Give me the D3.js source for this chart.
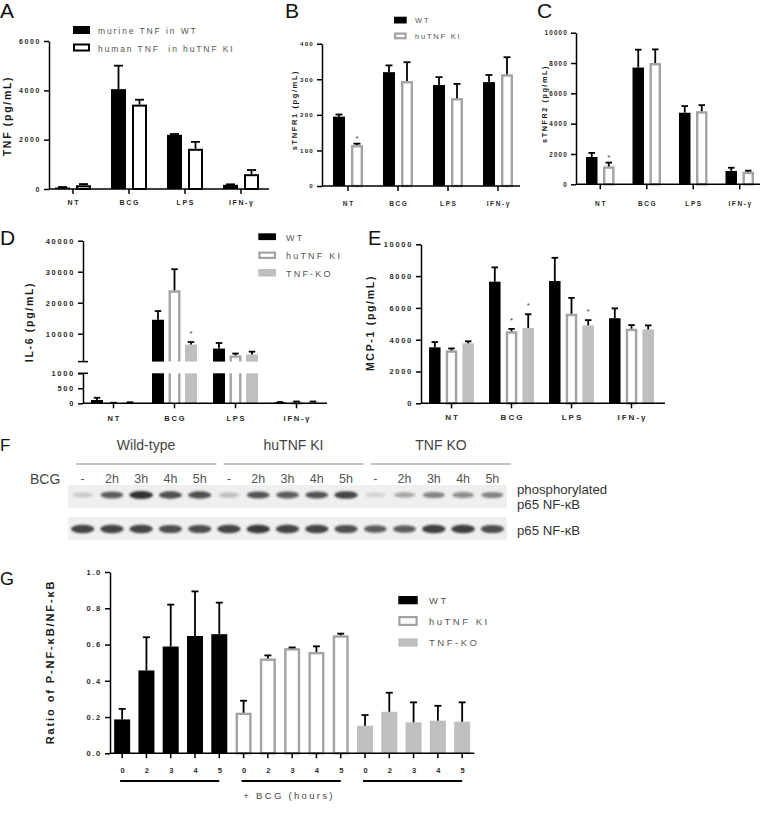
<!DOCTYPE html>
<html><head><meta charset="utf-8">
<script src="https://cdn.jsdelivr.net/npm/d3@7"></script>
<style>body{margin:0;background:#fff}svg{display:block}text{font-family:"Liberation Sans",Arial,sans-serif}</style>
</head><body>
<svg id="c" width="760" height="813"></svg>
<script>
// ---------------- DATA ----------------
const stimuli = ["NT", "BCG", "LPS", "IFN-γ"];
// A: TNF (pg/mL)
const tnfWT = [60, 4050, 2200, 170];
const tnfWTsem = [20, 950, 30, 20];
const tnfHu = [150, 3420, 1630, 600];
const tnfHuSem = [50, 200, 280, 170];
// B: sTNFR1
const r1WT = [195, 320, 284, 292];
const r1WTsem = [6, 19, 22, 20];
const r1Hu = [115, 295, 247, 314];
const r1HuSem = [4, 53, 40, 48];
const r1HuStar = [1, 0, 0, 0];
// C: sTNFR2
const r2WT = [1800, 7700, 4720, 880];
const r2WTsem = [270, 1180, 440, 210];
const r2Hu = [1180, 8000, 4820, 830];
const r2HuSem = [250, 900, 400, 70];
const r2HuStar = [1, 0, 0, 0];
// D: IL-6
const il6WT = [110, 14500, 5200, 30];
const il6WTsem = [75, 2800, 1800, 10];
const il6Hu = [15, 24000, 3000, 50];
const il6HuSem = [5, 6800, 600, 10];
const il6KO = [25, 6500, 3300, 40];
const il6KOsem = [10, 800, 900, 20];
const il6KOStar = [0, 1, 0, 0];
// E: MCP-1
const mcpWT = [3520, 7650, 7690, 5350];
const mcpWTsem = [330, 900, 1460, 620];
const mcpHu = [3330, 4530, 5630, 4690];
const mcpHuSem = [120, 150, 1000, 230];
const mcpKO = [3770, 4740, 4900, 4650];
const mcpKOsem = [130, 860, 330, 250];
const mcpHuStar = [0, 1, 0, 0];
const mcpKOStar = [0, 1, 1, 0];
// F: western blot
const blotGroups = ["Wild-type", "huTNF KI", "TNF KO"];
const lanes = ["-", "2h", "3h", "4h", "5h"];
const phosBand = [0.12, 0.7, 0.95, 0.8, 0.8, 0.18, 0.75, 0.7, 0.75, 0.85, 0.06, 0.3, 0.5, 0.45, 0.5];
const totalBand = [0.85, 0.85, 0.85, 0.8, 0.8, 0.85, 0.9, 0.85, 0.85, 0.8, 0.7, 0.7, 0.88, 0.88, 0.8];
// G: ratio
const hours = ["0", "2", "3", "4", "5"];
const ratioWT = [0.187, 0.457, 0.589, 0.647, 0.657];
const ratioWTsem = [0.058, 0.183, 0.231, 0.246, 0.174];
const ratioHu = [0.224, 0.523, 0.58, 0.559, 0.651];
const ratioHuSem = [0.066, 0.017, 0.004, 0.031, 0.009];
const ratioKO = [0.152, 0.229, 0.171, 0.18, 0.174];
const ratioKOsem = [0.059, 0.105, 0.11, 0.082, 0.107];

// ---------------- HELPERS ----------------
const svg = d3.select("#c");
svg.append("rect").attr("width", 760).attr("height", 813).attr("fill", "#fff");
const GRAY = "#a3a3a3", KOFILL = "#bfbfbf";
const TICKCOL = "#2a2a2a";

function txt(g, x, y, s, o = {}) {
  const t = g.append("text").attr("x", x).attr("y", y).text(s)
    .attr("font-size", o.size || 8).attr("fill", o.fill || "#333")
    .attr("letter-spacing", o.ls || 0).attr("text-anchor", o.anchor || "start");
  if (o.weight) t.attr("font-weight", o.weight);
  if (o.rotate) t.attr("transform", `rotate(-90,${x},${y})`);
  return t;
}
function yAxis(g, scale, x, ticks, o) {
  const ax = d3.axisLeft(scale).tickValues(ticks).tickSize(5).tickSizeOuter(0)
    .tickPadding(o.pad || 3).tickFormat(o.fmt || d3.format("d"));
  const a = g.append("g").attr("transform", `translate(${x},0)`).call(ax);
  a.attr("font-family", null);
  a.select(".domain").attr("stroke", "#000").attr("stroke-width", 1.5);
  a.selectAll(".tick line").attr("stroke", "#000").attr("stroke-width", 1.5);
  a.selectAll(".tick text").attr("font-size", o.size).attr("fill", TICKCOL).attr("font-weight", "bold")
    .attr("letter-spacing", o.ls).attr("font-family", "'Liberation Sans',Arial,sans-serif");
  return a;
}
function xAxis(g, xs, y0, x1, x2, o) {
  g.append("line").attr("x1", x1).attr("x2", x2).attr("y1", y0).attr("y2", y0)
    .attr("stroke", "#000").attr("stroke-width", 1.5);
  xs.domain().forEach(d => {
    const c = xs(d) + xs.bandwidth() / 2;
    g.append("line").attr("x1", c).attr("x2", c).attr("y1", y0).attr("y2", y0 + 5)
      .attr("stroke", "#000").attr("stroke-width", 1.5);
    if (o.labels) txt(g, c + (o.ls || 0) / 2, o.ly, d, { size: o.size, ls: o.ls, anchor: "middle", fill: TICKCOL, weight: "bold" });
  });
}
function bar(g, x, w, yBase, yTop, style) {
  if (style === "black" || style === "ko") {
    g.append("rect").attr("x", x).attr("y", yTop).attr("width", w).attr("height", Math.max(0, yBase - yTop))
      .attr("fill", style === "black" ? "#000" : KOFILL);
  } else {
    const sw = style === "hollowK" ? 2 : 2.4;
    const col = style === "hollowK" ? "#000" : GRAY;
    g.append("rect").attr("x", x + sw / 2).attr("y", yTop + sw / 2).attr("width", w - sw)
      .attr("height", Math.max(0, yBase - yTop - sw / 2)).attr("fill", "#fff")
      .attr("stroke", col).attr("stroke-width", sw);
  }
}
function err(g, cx, yTop, yErr, cap) {
  g.append("line").attr("x1", cx).attr("x2", cx).attr("y1", yTop).attr("y2", yErr)
    .attr("stroke", "#000").attr("stroke-width", 1.8);
  g.append("line").attr("x1", cx - cap / 2).attr("x2", cx + cap / 2).attr("y1", yErr).attr("y2", yErr)
    .attr("stroke", "#000").attr("stroke-width", 1.8);
}
function star(g, cx, y) {
  txt(g, cx, y, "*", { size: 8, anchor: "middle", fill: "#444" });
}
function legendBox(g, x, y, w, h, style) {
  if (style === "black" || style === "ko") g.append("rect").attr("x", x).attr("y", y).attr("width", w).attr("height", h).attr("fill", style === "black" ? "#000" : KOFILL);
  else {
    const sw = style === "hollowK" ? 2 : 2.2;
    g.append("rect").attr("x", x + sw / 2).attr("y", y + sw / 2).attr("width", w - sw).attr("height", h - sw)
      .attr("fill", "#fff").attr("stroke", style === "hollowK" ? "#000" : GRAY).attr("stroke-width", sw);
  }
}
function panel(o) {
  const g = svg.append("g");
  const xs = d3.scaleBand().domain(o.cats).range(o.band);
  o.series.forEach(s => {
    o.cats.forEach((c, i) => {
      const cx = xs(c) + xs.bandwidth() / 2 + s.off;
      const v = s.vals[i], e = s.sems[i];
      const yT = o.y(v), yE = o.y(v + e);
      bar(g, cx - o.bw / 2, o.bw, o.y(0), yT, s.style);
      err(g, cx, yT, yE, o.cap);
      if (s.stars && s.stars[i]) star(g, cx, yE - o.starGap);
    });
  });
  yAxis(g, o.y, o.yx, o.ticks, o.tick);
  xAxis(g, xs, o.y(0), o.yx, o.xEnd, o.xlab);
  txt(g, o.ylab.x, o.ylab.y, o.ylab.text, { size: o.ylab.size, ls: o.ylab.ls, anchor: "middle", rotate: true, fill: "#1a1a1a", weight: "bold" });
  return g;
}

// ---------------- PANEL LETTERS ----------------
[["A", 0, 18, 21], ["B", 285, 18, 21], ["C", 537, 18, 21], ["D", 0, 245, 21], ["E", 368, 245, 20], ["F", 0, 451, 17], ["G", 0, 585, 18]]
  .forEach(([l, x, y, s]) => txt(svg, x, y, l, { size: s, fill: "#111" }));

// ---------------- A ----------------
const yA = d3.scaleLinear().domain([0, 6000]).range([189, 41]);
panel({
  cats: stimuli, band: [45, 269], y: yA, yx: 49, xEnd: 269, bw: 15, cap: 9, starGap: 4,
  series: [{ vals: tnfWT, sems: tnfWTsem, style: "black", off: -10.5 }, { vals: tnfHu, sems: tnfHuSem, style: "hollowK", off: 10.5 }],
  ticks: [0, 2000, 4000, 6000], tick: { size: 7, ls: 1.6 },
  xlab: { labels: true, ly: 205, size: 7, ls: 1.6 },
  ylab: { x: 11, y: 116, text: "TNF (pg/mL)", size: 10.5, ls: 1.7 }
});
{
  const g = svg.append("g");
  legendBox(g, 73, 26, 17, 8, "black");
  legendBox(g, 73, 43.5, 17, 8, "hollowK");
  txt(g, 98, 34, "murine TNF in WT", { size: 8.5, ls: 1.9, fill: "#555" });
  txt(g, 98, 51.5, "human TNF  in huTNF KI", { size: 8.5, ls: 1.9, fill: "#555" }).style("white-space", "pre");
}

// ---------------- B ----------------
const yB = d3.scaleLinear().domain([0, 400]).range([186, 43.7]);
panel({
  cats: stimuli, band: [323, 523], y: yB, yx: 322, xEnd: 520, bw: 12, cap: 7, starGap: 3,
  series: [{ vals: r1WT, sems: r1WTsem, style: "black", off: -9 }, { vals: r1Hu, sems: r1HuSem, style: "hollowG", off: 9, stars: r1HuStar }],
  ticks: [0, 100, 200, 300, 400], tick: { size: 6.2, ls: 1.2 },
  xlab: { labels: true, ly: 206, size: 6.5, ls: 1.6 },
  ylab: { x: 297, y: 110, text: "sTNFR1 (pg/mL)", size: 7.5, ls: 1.6 }
});
{
  const g = svg.append("g");
  legendBox(g, 394, 16.7, 12.7, 6.8, "black");
  legendBox(g, 394, 32.5, 12.7, 6.8, "hollowG");
  txt(g, 415, 23, "WT", { size: 7.5, ls: 1.8, fill: "#555" });
  txt(g, 415, 39, "huTNF KI", { size: 7.5, ls: 1.8, fill: "#555" });
}

// ---------------- C ----------------
const yC = d3.scaleLinear().domain([0, 10000]).range([184.3, 32.7]);
panel({
  cats: stimuli, band: [577, 763], y: yC, yx: 576, xEnd: 760, bw: 11.5, cap: 6.5, starGap: 3,
  series: [{ vals: r2WT, sems: r2WTsem, style: "black", off: -8.5 }, { vals: r2Hu, sems: r2HuSem, style: "hollowG", off: 8.5, stars: r2HuStar }],
  ticks: [0, 2000, 4000, 6000, 8000, 10000], tick: { size: 6.3, ls: 1.2 },
  xlab: { labels: true, ly: 206, size: 6.5, ls: 1.6 },
  ylab: { x: 547, y: 104, text: "sTNFR2 (pg/mL)", size: 7.2, ls: 1.6 }
});

// ---------------- D (broken axis) ----------------
{
  const g = svg.append("g");
  const yUp = d3.scaleLinear().domain([1000, 40000]).range([361.6, 240.7]);
  const yLo = d3.scaleLinear().domain([0, 1000]).range([403.3, 373.3]);
  const xs = d3.scaleBand().domain(stimuli).range([83, 327]);
  const series = [
    { vals: il6WT, sems: il6WTsem, style: "black", off: -16.5 },
    { vals: il6Hu, sems: il6HuSem, style: "hollowG", off: 0 },
    { vals: il6KO, sems: il6KOsem, style: "ko", off: 16.5, stars: il6KOStar }];
  const bw = 12, yy = v => v > 1000 ? yUp(v) : yLo(v);
  series.forEach(s => stimuli.forEach((c, i) => {
    const cx = xs(c) + xs.bandwidth() / 2 + s.off, v = s.vals[i], e = s.sems[i];
    const x0 = cx - bw / 2;
    if (v > 1000) {
      if (s.style === "hollowG") {
        g.append("rect").attr("x", x0).attr("y", yLo(1000)).attr("width", bw).attr("height", yLo(0) - yLo(1000)).attr("fill", "#fff");
        g.append("path").attr("d", `M${x0 + 1.2},${yLo(0)}V${yLo(1000)}M${x0 + bw - 1.2},${yLo(0)}V${yLo(1000)}`)
          .attr("stroke", GRAY).attr("stroke-width", 2.4).attr("fill", "none");
        g.append("path").attr("d", `M${x0 + 1.2},${yUp(1000)}V${yUp(v) + 1.2}H${x0 + bw - 1.2}V${yUp(1000)}`)
          .attr("stroke", GRAY).attr("stroke-width", 2.4).attr("fill", "none");
      } else {
        bar(g, x0, bw, yLo(0), yLo(1000), s.style);
        bar(g, x0, bw, yUp(1000), yUp(v), s.style);
      }
    } else bar(g, x0, bw, yLo(0), yLo(v), s.style);
    const yE = yy(v + e);
    err(g, cx, yy(v), yE, 6.5);
    if (s.stars && s.stars[i]) star(g, cx, yE - 6);
  }));
  yAxis(g, yUp, 83, [10000, 20000, 30000, 40000], { size: 7.5, ls: 1.7 });
  yAxis(g, yLo, 83, [0, 500, 1000], { size: 7.5, ls: 1.7 });
  [yUp(1000), yLo(1000)].forEach(y => g.append("line").attr("x1", 78).attr("x2", 88).attr("y1", y).attr("y2", y).attr("stroke", "#000").attr("stroke-width", 1.5));
  xAxis(g, xs, yLo(0), 83, 327, { labels: true, ly: 421, size: 7.5, ls: 1.8 });
  txt(g, 33, 322, "IL-6 (pg/mL)", { size: 10.5, ls: 1.7, anchor: "middle", rotate: true, fill: "#1a1a1a", weight: "bold" });
  legendBox(g, 258.3, 233.3, 17.7, 6.8, "black");
  legendBox(g, 258.3, 251.5, 17.7, 7.5, "hollowG");
  legendBox(g, 258.3, 269, 17.7, 7.5, "ko");
  txt(g, 286, 240.5, "WT", { size: 9, ls: 2.2, fill: "#555" });
  txt(g, 286, 258.5, "huTNF KI", { size: 9, ls: 2.2, fill: "#555" });
  txt(g, 286, 276.5, "TNF-KO", { size: 9, ls: 2.2, fill: "#555" });
}

// ---------------- E ----------------
const yE = d3.scaleLinear().domain([0, 10000]).range([403.3, 244.3]);
panel({
  cats: stimuli, band: [421.5, 661.5], y: yE, yx: 421, xEnd: 665, bw: 11.5, cap: 6.5, starGap: 6,
  series: [
    { vals: mcpWT, sems: mcpWTsem, style: "black", off: -16.7 },
    { vals: mcpHu, sems: mcpHuSem, style: "hollowG", off: 0, stars: mcpHuStar },
    { vals: mcpKO, sems: mcpKOsem, style: "ko", off: 16.7, stars: mcpKOStar }],
  ticks: [0, 2000, 4000, 6000, 8000, 10000], tick: { size: 7.5, ls: 1.7 },
  xlab: { labels: true, ly: 420, size: 8, ls: 2 },
  ylab: { x: 374, y: 323, text: "MCP-1 (pg/mL)", size: 10.5, ls: 1.7 }
});

// ---------------- F (blot) ----------------
{
  const g = svg.append("g");
  const defs = svg.append("defs");
  defs.append("filter").attr("id", "blur").attr("x", "-30%").attr("y", "-100%").attr("width", "160%").attr("height", "300%")
    .append("feGaussianBlur").attr("stdDeviation", "1.3 1");
  const laneIds = d3.range(15);
  const xl = d3.scaleBand().domain(laneIds).range([68, 507]);
  const gx = d3.scaleBand().domain(blotGroups).range([76, 511]).paddingInner(0.05);
  blotGroups.forEach((gr, k) => {
    const x0 = gx(gr), x1 = x0 + gx.bandwidth();
    g.append("line").attr("x1", x0).attr("x2", x1).attr("y1", 464).attr("y2", 464).attr("stroke", "#888").attr("stroke-width", 1.2);
    txt(g, (x0 + x1) / 2, 449.5, gr, { size: 14, anchor: "middle", fill: "#444" });
    lanes.forEach((l, j) => {
      const c = xl(k * 5 + j) + xl.bandwidth() / 2;
      txt(g, c, 483, l, { size: 12.5, anchor: "middle", fill: "#555" });
    });
  });
  txt(g, 30, 484, "BCG", { size: 14, fill: "#444" });
  [[485, 508, phosBand, 495, 2.0, 1.5], [517, 540, totalBand, 529, 2.4, 1.5]].forEach(([y0, y1, arr, yc, h0, h1]) => {
    g.append("rect").attr("x", 68).attr("y", y0).attr("width", 439).attr("height", y1 - y0).attr("fill", "#efefef");
    const bg = g.append("g").attr("filter", "url(#blur)");
    arr.forEach((v, i) => {
      const c = xl(i) + xl.bandwidth() / 2;
      bg.append("ellipse").attr("cx", c).attr("cy", yc).attr("rx", 10 + 2 * v).attr("ry", h0 + h1 * v * 1.4)
        .attr("fill", "#1e1e1e").attr("opacity", 0.1 + 0.85 * v);
    });
  });
  txt(g, 517, 494, "phosphorylated", { size: 13.2, fill: "#333" });
  txt(g, 517, 509, "p65 NF-κB", { size: 13.2, fill: "#333" });
  txt(g, 517, 535, "p65 NF-κB", { size: 13.2, fill: "#333" });
}

// ---------------- G ----------------
{
  const g = svg.append("g");
  const yG = d3.scaleLinear().domain([0, 1]).range([753.3, 572]);
  const groups = [
    { id: "WT", vals: ratioWT, sems: ratioWTsem, style: "black" },
    { id: "hu", vals: ratioHu, sems: ratioHuSem, style: "hollowG" },
    { id: "KO", vals: ratioKO, sems: ratioKOsem, style: "ko" }];
  const keys = [];
  groups.forEach(gr => hours.forEach(h => keys.push(gr.id + h)));
  const xs = d3.scaleBand().domain(keys).range([110, 474.3]);
  const bw = 16;
  groups.forEach(gr => hours.forEach((h, i) => {
    const cx = xs(gr.id + h) + xs.bandwidth() / 2;
    bar(g, cx - bw / 2, bw, yG(0), yG(gr.vals[i]), gr.style);
    err(g, cx, yG(gr.vals[i]), yG(gr.vals[i] + gr.sems[i]), 7);
  }));
  yAxis(g, yG, 110, [0, 0.2, 0.4, 0.6, 0.8, 1.0], { size: 7.5, ls: 1.7, fmt: d3.format(".1f") });
  g.append("line").attr("x1", 110).attr("x2", 474.3).attr("y1", yG(0)).attr("y2", yG(0)).attr("stroke", "#000").attr("stroke-width", 1.5);
  keys.forEach((k, i) => {
    const cx = xs(k) + xs.bandwidth() / 2;
    g.append("line").attr("x1", cx).attr("x2", cx).attr("y1", yG(0)).attr("y2", yG(0) + 5).attr("stroke", "#000").attr("stroke-width", 1.5);
    txt(g, cx + 0.5, 773, hours[i % 5], { size: 7.5, anchor: "middle", fill: TICKCOL, weight: "bold" });
  });
  groups.forEach(gr => {
    const a = xs(gr.id + "0") + xs.bandwidth() / 2 - 2, b = xs(gr.id + "5") + xs.bandwidth() / 2;
    g.append("line").attr("x1", a).attr("x2", b).attr("y1", 781).attr("y2", 781).attr("stroke", "#000").attr("stroke-width", 2);
  });
  txt(g, 289, 799, "+ BCG (hours)", { size: 9.5, ls: 2.3, anchor: "middle", fill: "#444" });
  txt(g, 54, 662, "Ratio of P-NF-κB/NF-κB", { size: 11, ls: 1.9, anchor: "middle", rotate: true, fill: "#1a1a1a", weight: "bold" });
  legendBox(g, 398.3, 596, 19.4, 8.3, "black");
  legendBox(g, 398.3, 616, 19.4, 10, "hollowG");
  legendBox(g, 398.3, 638.3, 19.4, 8.4, "ko");
  txt(g, 429, 604, "WT", { size: 9.5, ls: 2.5, fill: "#555" });
  txt(g, 429, 625, "huTNF KI", { size: 9.5, ls: 2.5, fill: "#555" });
  txt(g, 429, 646, "TNF-KO", { size: 9.5, ls: 2.5, fill: "#555" });
}
</script>
</body></html>
